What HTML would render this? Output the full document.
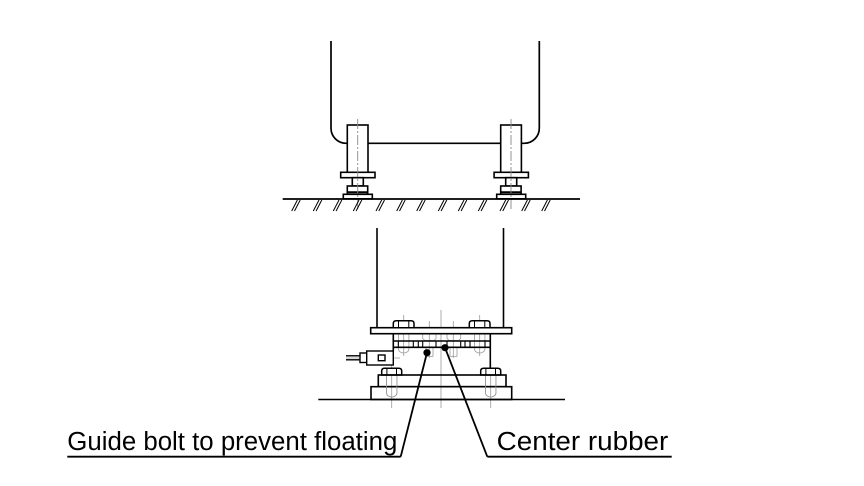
<!DOCTYPE html>
<html>
<head>
<meta charset="utf-8">
<style>
html,body{margin:0;padding:0;background:#fff;}
svg{display:block;}
</style>
</head>
<body>
<svg width="864" height="486" viewBox="0 0 864 486" xmlns="http://www.w3.org/2000/svg">
<rect width="864" height="486" fill="#fff"/>
<g fill="none" stroke="#000" stroke-width="1.7">
  <!-- upper frame -->
  <path d="M331,41 V128.3 A15,15 0 0 0 346,143.3 H524.3 A15,15 0 0 0 539.3,128.3 V41"/>
</g>
<!-- left foot -->
<g stroke="#000" stroke-width="1.6" fill="#fff">
  <rect x="347.3" y="125" width="20.7" height="47.3"/>
  <rect x="340.7" y="172.3" width="34.3" height="5.4"/>
  <rect x="352.3" y="177.7" width="11" height="8.3"/>
  <rect x="347.3" y="186" width="20.4" height="8.3"/>
  <rect x="343.3" y="194.3" width="29" height="4.5"/>
</g>
<line x1="347.3" y1="192.3" x2="367.7" y2="192.3" stroke="#000" stroke-width="2"/>
<!-- right foot -->
<g stroke="#000" stroke-width="1.6" fill="#fff" transform="translate(153.4,0)">
  <rect x="347.3" y="125" width="20.7" height="47.3"/>
  <rect x="340.7" y="172.3" width="34.3" height="5.4"/>
  <rect x="352.3" y="177.7" width="11" height="8.3"/>
  <rect x="347.3" y="186" width="20.4" height="8.3"/>
  <rect x="343.3" y="194.3" width="29" height="4.5"/>
</g>
<line x1="500.7" y1="192.3" x2="521.1" y2="192.3" stroke="#000" stroke-width="2"/>
<!-- centerlines top -->
<g stroke="#888" stroke-width="0.9" stroke-dasharray="10,2,2,2">
  <line x1="357.7" y1="119" x2="357.7" y2="211"/>
  <line x1="511" y1="119" x2="511" y2="211"/>
</g>
<!-- ground top -->
<line x1="282.7" y1="199" x2="580" y2="199" stroke="#000" stroke-width="1.7"/>
<g stroke="#000" stroke-width="1">
  <path d="M291.7,211 L297.4,200 M294.5,211 L300.2,200"/>
  <path d="M313.3,211 L319,200 M316.1,211 L321.8,200"/>
  <path d="M333.3,211 L339,200 M336.1,211 L341.8,200"/>
  <path d="M353.3,211 L359,200 M356.1,211 L361.8,200"/>
  <path d="M376,211 L381.7,200 M378.8,211 L384.5,200"/>
  <path d="M396.7,211 L402.4,200 M399.5,211 L405.2,200"/>
  <path d="M416.7,211 L422.4,200 M419.5,211 L425.2,200"/>
  <path d="M438.3,211 L444,200 M441.1,211 L446.8,200"/>
  <path d="M458.3,211 L464,200 M461.1,211 L466.8,200"/>
  <path d="M478.3,211 L484,200 M481.1,211 L486.8,200"/>
  <path d="M500,211 L505.7,200 M502.8,211 L508.5,200"/>
  <path d="M521.7,211 L527.4,200 M524.5,211 L530.2,200"/>
  <path d="M541.7,211 L547.4,200 M544.5,211 L550.2,200"/>
</g>

<!-- bottom assembly -->
<g stroke="#000" stroke-width="1.6" fill="none">
  <line x1="377" y1="228" x2="377" y2="327.7"/>
  <line x1="503.5" y1="228" x2="503.5" y2="327.7"/>
</g>
<!-- gray thin details -->
<g stroke="#999" stroke-width="0.8" fill="none">
  <line x1="441" y1="310" x2="441" y2="408"/>
  <line x1="403.7" y1="315" x2="403.7" y2="356"/>
  <line x1="479.7" y1="315" x2="479.7" y2="356"/>
  <line x1="391.7" y1="362" x2="391.7" y2="408"/>
  <line x1="490.7" y1="362" x2="490.7" y2="408"/>
  <line x1="429.3" y1="321" x2="429.3" y2="358"/>
  <line x1="453.3" y1="321" x2="453.3" y2="358"/>
  <line x1="346" y1="358" x2="400" y2="358"/>
  <!-- top bolt shanks -->
  <path d="M398.5,334 V349 A5.2,4 0 0 0 408.9,349 V334"/>
  <path d="M474.5,334 V349 A5.2,4 0 0 0 484.9,349 V334"/>
  <!-- lower bolt shanks -->
  <path d="M386.5,375 V393 A5.2,4 0 0 0 396.9,393 V375"/>
  <path d="M485.5,375 V393 A5.2,4 0 0 0 495.9,393 V375"/>
  <!-- inner bolts -->
  <path d="M422.7,334 V338.5 L425,340.5 H434 L436,338.5 V334"/>
  <path d="M447,334 V338.5 L449.3,340.5 H458.4 L460.7,338.5 V334"/>
  <rect x="426" y="347.3" width="7" height="9"/>
  <rect x="450" y="347.3" width="7" height="9"/>
</g>
<g stroke="#000" stroke-width="1.6" fill="none">
  <!-- body -->
  <line x1="393.3" y1="333.7" x2="393.3" y2="351"/>
  <line x1="490.3" y1="333.7" x2="490.3" y2="368.3"/>
  <!-- strip -->
  <line x1="393.3" y1="341" x2="490.3" y2="341"/>
  <line x1="393.3" y1="347.3" x2="490.3" y2="347.3"/>
</g>
<g stroke="#000" stroke-width="1.1" fill="none">
  <line x1="398.3" y1="341" x2="398.3" y2="347.3"/>
  <line x1="413.3" y1="341" x2="413.3" y2="347.3"/>
  <line x1="418.3" y1="341" x2="418.3" y2="347.3"/>
  <line x1="422.7" y1="341" x2="422.7" y2="347.3"/>
  <line x1="436" y1="341" x2="436" y2="347.3"/>
  <line x1="447" y1="341" x2="447" y2="347.3"/>
  <line x1="460.7" y1="341" x2="460.7" y2="347.3"/>
  <line x1="465" y1="341" x2="465" y2="347.3"/>
  <line x1="470" y1="341" x2="470" y2="347.3"/>
  <line x1="485" y1="341" x2="485" y2="347.3"/>
</g>
<!-- top plate -->
<rect x="370.7" y="327.7" width="141" height="6" fill="#fff" stroke="#000" stroke-width="1.6"/>
<!-- top bolt heads -->
<g stroke="#000" stroke-width="1.5" fill="#fff">
  <path d="M393.3,327.7 V323.5 Q393.3,320.7 396.3,320.7 H411 Q414,320.7 414,323.5 V327.7 Z"/>
  <path d="M469.3,327.7 V323.5 Q469.3,320.7 472.3,320.7 H487 Q490,320.7 490,323.5 V327.7 Z"/>
  <path d="M381.7,375 V371 Q381.7,368.3 384.7,368.3 H398.7 Q401.7,368.3 401.7,371 V375 Z"/>
  <path d="M480.7,375 V371 Q480.7,368.3 483.7,368.3 H497.7 Q500.7,368.3 500.7,371 V375 Z"/>
</g>
<g stroke="#000" stroke-width="1">
  <line x1="398.5" y1="321" x2="398.5" y2="327.7"/>
  <line x1="408.8" y1="321" x2="408.8" y2="327.7"/>
  <line x1="474.5" y1="321" x2="474.5" y2="327.7"/>
  <line x1="484.8" y1="321" x2="484.8" y2="327.7"/>
  <line x1="386.9" y1="368.6" x2="386.9" y2="375"/>
  <line x1="396.5" y1="368.6" x2="396.5" y2="375"/>
  <line x1="485.9" y1="368.6" x2="485.9" y2="375"/>
  <line x1="495.5" y1="368.6" x2="495.5" y2="375"/>
</g>
<!-- connector -->
<g stroke="#000" stroke-width="1.4" fill="#fff">
  <line x1="346" y1="355.8" x2="360" y2="355.8"/>
  <line x1="346" y1="359.8" x2="360" y2="359.8"/>
  <rect x="360" y="353" width="6.7" height="9.5"/>
  <rect x="366.7" y="351" width="26.6" height="14"/>
  <rect x="378.3" y="355" width="6.7" height="5.7"/>
</g>
<!-- lower plates -->
<g stroke="#000" stroke-width="1.6" fill="none">
  <rect x="378.3" y="375" width="127.7" height="11.7"/>
  <rect x="371" y="386.7" width="140.7" height="12.8"/>
  <line x1="318.3" y1="399.5" x2="565" y2="399.5"/>
</g>
<!-- redraw gray shanks over plates -->
<g stroke="#999" stroke-width="0.8" fill="none">
  <path d="M386.5,376 V393 A5.2,4 0 0 0 396.9,393 V376"/>
  <path d="M485.5,376 V393 A5.2,4 0 0 0 495.9,393 V376"/>
</g>
<!-- leaders -->
<g stroke="#000" stroke-width="1.8" fill="none">
  <line x1="427" y1="352.7" x2="400.7" y2="456.7"/>
  <line x1="445" y1="347.7" x2="487.3" y2="456.7"/>
  <line x1="67.3" y1="456.7" x2="400.7" y2="456.7"/>
  <line x1="487.3" y1="456.7" x2="671.7" y2="456.7"/>
</g>
<circle cx="427" cy="352.7" r="3.6" fill="#000"/>
<circle cx="445" cy="347.7" r="3.6" fill="#000"/>
<!-- labels -->
<g font-family="'Liberation Sans', sans-serif" font-size="25.5" fill="#000">
  <text x="67.3" y="450" textLength="330" lengthAdjust="spacingAndGlyphs">Guide bolt to prevent floating</text>
  <text x="496.7" y="450" textLength="171.6" lengthAdjust="spacingAndGlyphs">Center rubber</text>
</g>
</svg>
</body>
</html>
